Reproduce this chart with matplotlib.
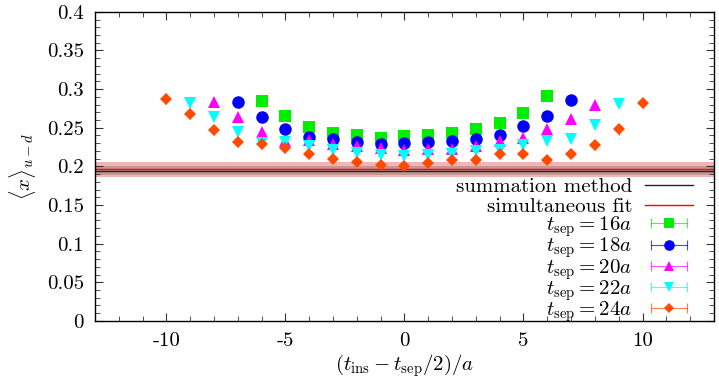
import matplotlib
matplotlib.use("Agg")
import matplotlib.pyplot as plt
from matplotlib.lines import Line2D
from matplotlib.legend_handler import HandlerLine2D, HandlerTuple
from matplotlib.ticker import MultipleLocator, FuncFormatter

plt.rcParams["font.family"] = ["cmr10", "DejaVu Serif"]
plt.rcParams["mathtext.fontset"] = "cm"
plt.rcParams["axes.unicode_minus"] = False
plt.rcParams["axes.formatter.use_mathtext"] = True

# значения
x16 = list(range(-6, 7))
y16 = [0.285, 0.2647, 0.2504, 0.243, 0.240, 0.237, 0.2387,
       0.241, 0.243, 0.248, 0.256, 0.269, 0.2906]
e16 = [0.003, 0.003, 0.003, 0.003, 0.003, 0.003, 0.003,
       0.003, 0.003, 0.003, 0.003, 0.003, 0.003]

x18 = list(range(-7, 8))
y18 = [0.2837, 0.264, 0.248, 0.238, 0.235, 0.232, 0.229, 0.230,
       0.231, 0.233, 0.235, 0.241, 0.2517, 0.2647, 0.2854]
e18 = [0.004, 0.004, 0.003, 0.003, 0.003, 0.003, 0.003, 0.003,
       0.003, 0.003, 0.003, 0.003, 0.003, 0.004, 0.004]

x20 = list(range(-8, 9))
y20 = [0.2837, 0.264, 0.245, 0.233, 0.2336, 0.229, 0.2267, 0.2237, 0.2215,
       0.2228, 0.2228, 0.2258, 0.2323, 0.2366, 0.248, 0.261, 0.2798]
e20 = [0.004, 0.004, 0.004, 0.004, 0.004, 0.004, 0.004, 0.004, 0.004,
       0.004, 0.004, 0.004, 0.004, 0.004, 0.004, 0.004, 0.004]

x22 = list(range(-9, 10))
y22 = [0.282, 0.264, 0.244, 0.230, 0.231, 0.2258, 0.2215, 0.217, 0.2145, 0.2137,
       0.215, 0.2163, 0.2202, 0.2215, 0.228, 0.2323, 0.2354, 0.253, 0.2811]
e22 = [0.005, 0.005, 0.005, 0.004, 0.004, 0.004, 0.004, 0.004, 0.004, 0.004,
       0.004, 0.004, 0.004, 0.004, 0.004, 0.004, 0.005, 0.005, 0.005]

x24 = list(range(-10, 11))
y24 = [0.2875, 0.268, 0.247, 0.2315, 0.229, 0.2237, 0.2163, 0.210, 0.205, 0.202,
       0.2008, 0.204, 0.2076, 0.2085, 0.2163, 0.2163, 0.2085, 0.2163, 0.2276,
       0.248, 0.282]
e24 = [0.007, 0.007, 0.006, 0.006, 0.006, 0.005, 0.005, 0.005, 0.005, 0.005,
       0.005, 0.005, 0.005, 0.005, 0.005, 0.005, 0.006, 0.006, 0.006, 0.007, 0.007]

# summation method и simultaneous fit: центр и ошибка
summ_val, summ_err = 0.1945, 0.0055
sim_val, sim_err = 0.196, 0.0095

series = [
    (x16, y16, e16, "#00ee00", "s", 8.5, r"$t_{\rm sep}=16a$"),
    (x18, y18, e18, "#0000ff", "o", 9.0, r"$t_{\rm sep}=18a$"),
    (x20, y20, e20, "#ff00ff", "^", 8.5, r"$t_{\rm sep}=20a$"),
    (x22, y22, e22, "#00ffff", "v", 8.5, r"$t_{\rm sep}=22a$"),
    (x24, y24, e24, "#ff4a00", "D", 6.5, r"$t_{\rm sep}=24a$"),
]

fig = plt.figure(figsize=(7.19, 3.82), dpi=100)
ax = fig.add_axes([0.132, 0.160, 0.861, 0.809])

xlim = (-13, 13)
ax.fill_between(xlim, sim_val - sim_err, sim_val + sim_err,
                color="#e8383a", alpha=0.38, lw=0, zorder=1)
ax.fill_between(xlim, summ_val - summ_err, summ_val + summ_err,
                color="#555555", alpha=0.3, lw=0, zorder=1)
ax.axhline(sim_val, color="#ff0000", lw=1.0, zorder=2)
ax.axhline(summ_val, color="#222222", lw=1.0, zorder=2)

fit_handles = [Line2D([], [], color="#222222", lw=1.0),
               Line2D([], [], color="#ff0000", lw=1.0)]
fit_labels = ["summation method", "simultaneous fit"]

handles = []
labels = []
hmap = {}
for x, y, e, c, m, ms, lab in series:
    ax.errorbar(x, y, yerr=e, fmt=m, color=c, ms=ms, mew=0,
                elinewidth=0.8, capsize=3, capthick=0.8, ecolor=c, zorder=3)
    cap = Line2D([], [], color=c, lw=0.8, alpha=0.7, marker="|",
                 ms=7, mew=0.8)
    mk = Line2D([], [], color=c, ls="none", marker=m, ms=ms * 0.85, mew=0)
    hmap[cap] = HandlerLine2D(numpoints=2)
    hmap[mk] = HandlerLine2D(numpoints=1)
    handles.append((cap, mk))
    labels.append(lab)
hmap[tuple] = HandlerTuple(ndivide=1)

ax.set_xlim(*xlim)
ax.set_ylim(0, 0.4)
ax.xaxis.set_major_locator(MultipleLocator(5))
ax.xaxis.set_minor_locator(MultipleLocator(1))
ax.yaxis.set_major_locator(MultipleLocator(0.05))
ax.yaxis.set_minor_locator(MultipleLocator(0.01))
fmt = FuncFormatter(lambda v, p: f"{v:g}")
ax.xaxis.set_major_formatter(fmt)
ax.yaxis.set_major_formatter(fmt)
ax.tick_params(which="both", direction="in", top=True, right=True,
               labelsize=15, colors="#333333", labelcolor="black")
ax.tick_params(which="major", length=6, width=0.8, pad=8)
ax.tick_params(which="minor", length=3.5, width=0.6)
for s in ax.spines.values():
    s.set_linewidth(1.0)

ax.set_xlabel(r"$(t_{\rm ins}-t_{\rm sep}/2)/a$", fontsize=15, labelpad=2)
ax.set_ylabel(r"$\langle x\rangle_{u-d}$", fontsize=15, labelpad=6)

leg_kw = dict(loc="center right", frameon=False, markerfirst=False,
              fontsize=15, handlelength=2.3, handletextpad=0.6,
              borderpad=0.2, borderaxespad=0)
leg1 = ax.legend(fit_handles, fit_labels, bbox_to_anchor=(0.9725, 0.4015),
                 labelspacing=0.05, **leg_kw)
ax.add_artist(leg1)
ax.legend(handles, labels, handler_map=hmap, bbox_to_anchor=(0.9725, 0.167),
          labelspacing=-0.17, **leg_kw)

fig.savefig("out.png", dpi=100)
